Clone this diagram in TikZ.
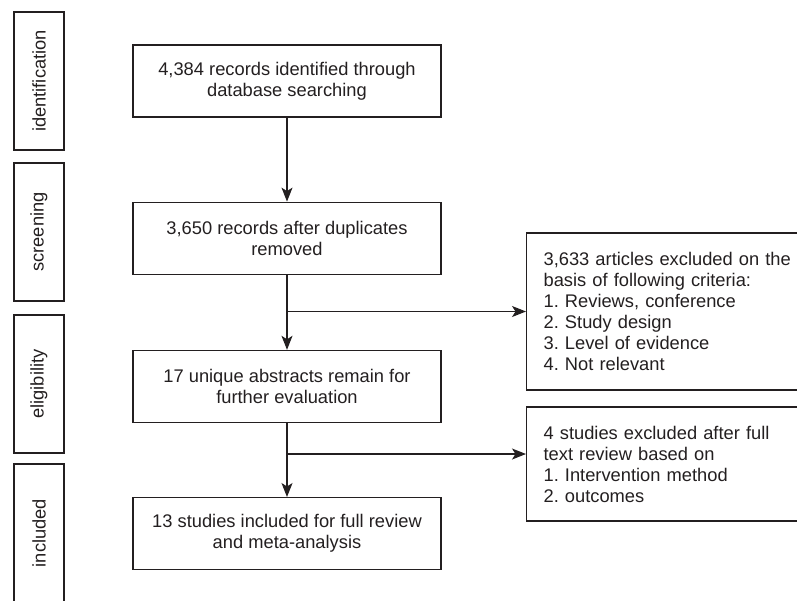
\documentclass[tikz,border=0pt]{standalone}
\usepackage{fontspec}
\setmainfont{Liberation Sans}
\usepackage{xcolor}
\usetikzlibrary{arrows.meta,positioning}
\definecolor{ink}{RGB}{35,31,32}
\tikzset{
  flowfont/.style={font=\fontsize{18.3}{21}\selectfont\frenchspacing, text=ink},
  stagebox/.style={rectangle, draw=ink, line width=1.2pt, rotate=90, minimum width=138pt, minimum height=50pt, inner sep=0pt},
  mainbox/.style={rectangle, draw=ink, line width=1.2pt, align=center, minimum width=308pt, minimum height=72pt, inner sep=0pt},
  exclbox/.style={rectangle, draw=ink, line width=1.2pt, align=left, anchor=west, inner xsep=17pt, inner ysep=0pt, text width=266pt},
  flowarr/.style={-{Stealth[length=14pt,width=11pt,inset=3.5pt]}, line width=1.2pt, draw=ink},
}
\begin{document}
\begin{tikzpicture}[x=1pt, y=-1pt, flowfont]
  \clip (0,0) rectangle (797,600);
  % stages
  \node[stagebox] (sid) at (39,81) {identification};
  \node[stagebox] (sscr) at (39,232) {screening};
  \node[stagebox] (selig) at (39,384) {eligibility};
  \node[stagebox] (sincl) at (39,533) {included};
  % main flow
  \node[mainbox] (rec) at (287,81) {4,384 records identified through\\database searching};
  \node[mainbox, below=84pt of rec] (dedup) {3,650 records after duplicates\\removed};
  \node[mainbox, below=75pt of dedup] (abstr) {17 unique abstracts remain for\\further evaluation};
  \node[mainbox, below=74pt of abstr] (incl) {13 studies included for full review\\and meta-analysis};
  % exclusions
  \node[exclbox, minimum height=157pt] (excla) at (526,311.5) {3,633 articles excluded on the\\basis of following criteria:\\1. Reviews, conference\\2. Study design\\3. Level of evidence\\4. Not relevant};
  \node[exclbox, minimum height=114pt] (exclb) at (526,464) {4 studies excluded after full\\text review based on\\1. Intervention method\\2. outcomes};
  \coordinate (ja) at (dedup.south |- excla.west);
  \coordinate (jb) at (287,454);
  \draw[flowarr] (rec) -- (dedup);
  \draw[flowarr] (dedup) -- (abstr);
  \draw[flowarr] (abstr) -- (incl);
  \draw[flowarr] (ja) -- (excla.west);
  \draw[flowarr] (jb) -- (jb -| exclb.west);
\end{tikzpicture}
\end{document}
